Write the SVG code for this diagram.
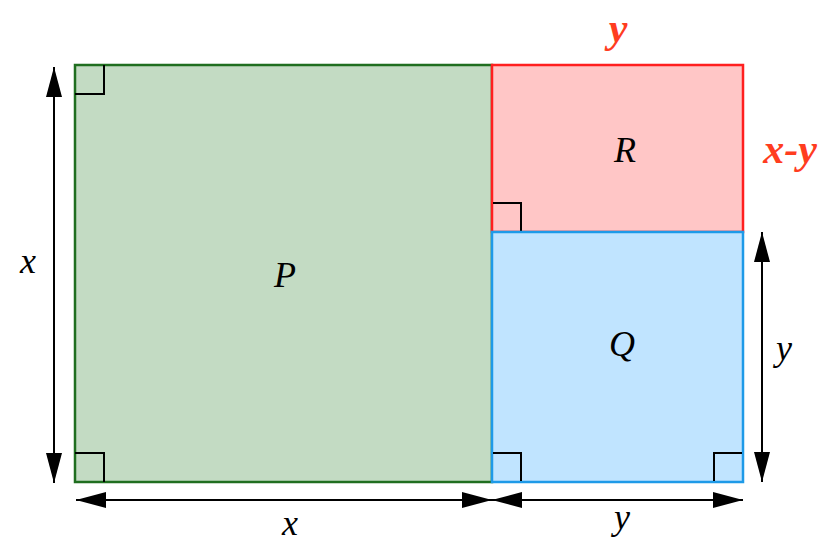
<svg xmlns="http://www.w3.org/2000/svg" width="836" height="559" viewBox="0 0 836 559">
<style>
.lbl{font-family:"Liberation Serif","Times New Roman",serif;font-style:italic;font-size:36px;fill:#000;text-anchor:middle}
.red{font-family:"Liberation Serif","Times New Roman",serif;font-style:italic;font-weight:bold;font-size:42px;fill:#ff3d1f;text-anchor:middle}
.ra{fill:none;stroke:#000;stroke-width:2}
.dim{stroke:#000;stroke-width:2;fill:none}
</style>
<defs>
<marker id="ah" viewBox="0 0 30 16" refX="30" refY="8" markerWidth="30" markerHeight="16" markerUnits="userSpaceOnUse" orient="auto">
<path d="M0,0 L30,8 L0,16 Z" fill="#000"/>
</marker>
</defs>
<rect width="836" height="559" fill="#fff"/>
<g id="P">
<rect x="75" y="65" width="417" height="417" fill="#c3dbc3" stroke="#1f6e1f" stroke-width="2.5"/>
<path class="ra" d="M75,94 H104 V65"/>
<path class="ra" d="M75,453 H104 V482"/>
<text class="lbl" x="285" y="287">P</text>
</g>
<g id="R">
<rect x="492" y="65" width="251" height="167" fill="#ffc6c6" stroke="#ff1f1f" stroke-width="2.5"/>
<path class="ra" d="M493,203 H521 V232"/>
<text class="lbl" x="625" y="162">R</text>
</g>
<g id="Q">
<rect x="492" y="232" width="251" height="250" fill="#c0e4ff" stroke="#1e9ae8" stroke-width="2.5"/>
<path class="ra" d="M493,453 H521 V481"/>
<path class="ra" d="M742,453 H714 V481"/>
<text class="lbl" x="622" y="356">Q</text>
</g>
<g id="connectors">
<line class="dim" x1="54" y1="274" x2="54" y2="67" marker-end="url(#ah)"/>
<line class="dim" x1="54" y1="274" x2="54" y2="483" marker-end="url(#ah)"/>
<line class="dim" x1="284" y1="500" x2="76" y2="500" marker-end="url(#ah)"/>
<line class="dim" x1="284" y1="500" x2="492" y2="500" marker-end="url(#ah)"/>
<line class="dim" x1="618" y1="500" x2="492" y2="500" marker-end="url(#ah)"/>
<line class="dim" x1="618" y1="500" x2="743" y2="500" marker-end="url(#ah)"/>
<line class="dim" x1="762" y1="357" x2="762" y2="232" marker-end="url(#ah)"/>
<line class="dim" x1="762" y1="357" x2="762" y2="482" marker-end="url(#ah)"/>
</g>
<g id="labels">
<text class="lbl" x="28" y="273">x</text>
<text class="lbl" x="290" y="535">x</text>
<text class="lbl" x="622" y="529">y</text>
<text class="lbl" x="784" y="360">y</text>
<text class="red" x="618" y="42">y</text>
<text class="red" x="790" y="163">x-y</text>
</g>
</svg>
